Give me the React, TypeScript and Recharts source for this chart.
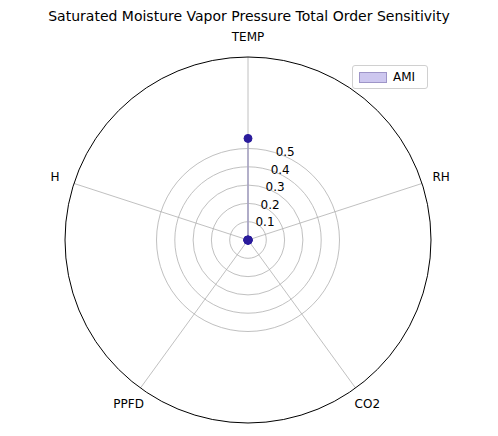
import { RadarChart, Radar, PolarGrid, PolarAngleAxis, PolarRadiusAxis } from 'recharts';

const categories = ['TEMP', 'RH', 'CO2', 'PPFD', 'H'];
const amiValues = [0.555, 0.002, 0.002, 0.002, 0.002];
const radiusTicks = [0.1, 0.2, 0.3, 0.4, 0.5];
const seriesName = 'AMI';
const title = 'Saturated Moisture Vapor Pressure Total Order Sensitivity';

const data = categories.map((c, i) => ({ cat: c, ami: amiValues[i] }));

const CX = 248;
const CY = 240;
const R = 183;
const FONT = 'DejaVu Sans, sans-serif';

function AngleTick(props: any) {
  const { payload } = props;
  const a = (-payload.coordinate * Math.PI) / 180;
  const r = R + 20;
  const x = CX + r * Math.cos(a);
  const y = CY + r * Math.sin(a);
  return (
    <text x={x} y={y} textAnchor="middle" dominantBaseline="central" fontSize={12} fill="#000" fontFamily={FONT}>
      {payload.value}
    </text>
  );
}

function RadiusTick(props: any) {
  const { x, y, payload } = props;
  return (
    <text x={x + 12} y={y} textAnchor="middle" dominantBaseline="central" fontSize={12} fill="#000" fontFamily={FONT}>
      {payload.value}
    </text>
  );
}

export default function App() {
  return (
    <div style={{ position: 'absolute', left: 0, top: 0, width: 498, height: 436, background: '#fff', fontFamily: FONT }}>
      <div style={{ position: 'absolute', top: 8, width: 498, textAlign: 'center', fontSize: 14, color: '#000' }}>{title}</div>
      <RadarChart width={498} height={436} cx={CX} cy={CY} outerRadius={R} data={data} margin={{ top: 0, right: 0, bottom: 0, left: 0 }}>
        <PolarGrid gridType="circle" stroke="#b0b0b0" strokeWidth={0.8} />
        <PolarAngleAxis dataKey="cat" tick={AngleTick} tickLine={false} axisLine={false} />
        <PolarRadiusAxis
          type="number"
          angle={74}
          domain={[0, 0.58]}
          allowDataOverflow
          ticks={radiusTicks as any}
          axisLine={false}
          tickLine={false}
          tick={RadiusTick}
        />
        <Radar
          name={seriesName}
          dataKey="ami"
          stroke="#a8a4c4"
          strokeWidth={1}
          fill="#9b8fe0"
          fillOpacity={0.5}
          dot={{ r: 4, fill: '#2a1b9c', stroke: '#2a1b9c', fillOpacity: 1 }}
          isAnimationActive={false}
        />
      </RadarChart>
      <svg width={498} height={436} style={{ position: 'absolute', left: 0, top: 0, pointerEvents: 'none' }}>
        <circle cx={CX} cy={CY} r={R} fill="none" stroke="#000" strokeWidth={1} />
      </svg>
      <div style={{ position: 'absolute', left: 352, top: 65, width: 74, height: 22, border: '1px solid #d0d0d0', borderRadius: 3, background: '#fff', display: 'flex', alignItems: 'center', fontSize: 12 }}>
        <span style={{ display: 'inline-block', width: 26, height: 9, marginLeft: 6, marginRight: 6, background: 'rgba(155,143,224,0.5)', border: '1px solid #9e95c8' }} />
        {seriesName}
      </div>
    </div>
  );
}
